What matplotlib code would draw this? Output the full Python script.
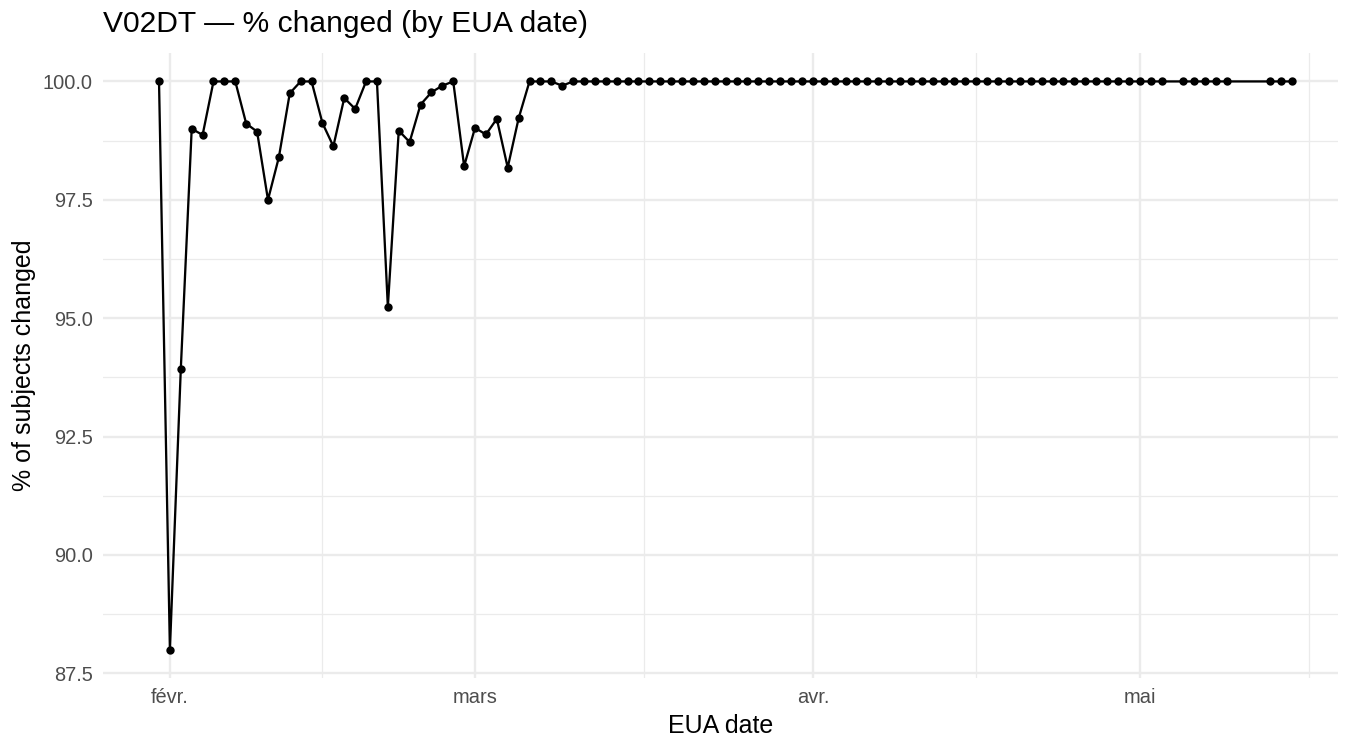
import matplotlib
matplotlib.use("Agg")
import matplotlib.pyplot as plt
import matplotlib.dates as mdates
import numpy as np
import pandas as pd

# data (2021, EUA dates)
start_date = "2021-01-31"
end_date = "2021-05-15"
missing_dates = ["2021-05-04", "2021-05-10", "2021-05-11", "2021-05-12"]

pct_changed = [
    100.0,                                                  # Jan 31
    88.0, 93.93, 99.0, 98.87, 100.0, 100.0, 100.0,          # Feb 1-7
    99.11, 98.94, 97.5, 98.4, 99.75, 100.0, 100.0,          # Feb 8-14
    99.12, 98.63, 99.65, 99.42, 100.0, 100.0, 95.24,        # Feb 15-21
    98.96, 98.72, 99.51, 99.77, 99.91, 100.0, 98.21,        # Feb 22-28
    99.02, 98.88, 99.21, 98.18, 99.22, 100.0, 100.0,        # Mar 1-7
    100.0, 99.91, 100.0, 100.0, 100.0, 100.0, 100.0,        # Mar 8-14
    100.0, 100.0, 100.0, 100.0, 100.0, 100.0, 100.0,        # Mar 15-21
    100.0, 100.0, 100.0, 100.0, 100.0, 100.0, 100.0,        # Mar 22-28
    100.0, 100.0, 100.0, 100.0, 100.0, 100.0, 100.0,        # Mar 29-Apr 4
    100.0, 100.0, 100.0, 100.0, 100.0, 100.0, 100.0,        # Apr 5-11
    100.0, 100.0, 100.0, 100.0, 100.0, 100.0, 100.0,        # Apr 12-18
    100.0, 100.0, 100.0, 100.0, 100.0, 100.0, 100.0,        # Apr 19-25
    100.0, 100.0, 100.0, 100.0, 100.0, 100.0, 100.0,        # Apr 26-May 2
    100.0,                                                  # May 3
    100.0, 100.0, 100.0, 100.0, 100.0,                      # May 5-9
    100.0, 100.0, 100.0,                                    # May 13-15
]

month_labels = {1: "janv.", 2: "févr.", 3: "mars", 4: "avr.", 5: "mai", 6: "juin"}
y_ticks = [87.5, 90.0, 92.5, 95.0, 97.5, 100.0]

dates = pd.date_range(start_date, end_date)
dates = dates[~dates.isin(pd.to_datetime(missing_dates))]
x = mdates.date2num(dates.to_pydatetime())
y = np.array(pct_changed)

plt.rcParams["font.family"] = ["Liberation Sans", "DejaVu Sans"]

fig = plt.figure(figsize=(9, 5), dpi=150)
ax = fig.add_axes([0.0763, 0.096, 0.9146, 0.8333])

ax.plot(x, y, color="black", lw=1.1, zorder=3)
ax.plot(x, y, "o", color="black", ms=3.0, zorder=4)

feb1 = mdates.date2num(pd.Timestamp("2021-02-01").to_pydatetime())
yr = y.max() - y.min()

majors = mdates.date2num(pd.date_range("2021-01-01", "2021-06-01", freq="MS").to_pydatetime())
ax.set_xticks(majors)
ax.set_xticklabels([month_labels[d.month] for d in mdates.num2date(majors)])
ax.set_xticks((majors[:-1] + majors[1:]) / 2, minor=True)
ax.set_yticks(y_ticks)
ax.set_yticklabels([f"{v:.1f}" for v in y_ticks])
ax.set_yticks([(a + b) / 2 for a, b in zip(y_ticks[:-1], y_ticks[1:])] + [101.25], minor=True)
ax.set_xlim(feb1 - 6.14, feb1 + 107.17)
ax.set_ylim(y.min() - 0.05 * yr, y.max() + 0.05 * yr)

ax.grid(which="major", color="#EBEBEB", lw=1.15)
ax.grid(which="minor", color="#EBEBEB", lw=0.6)
ax.set_axisbelow(True)
for s in ax.spines.values():
    s.set_visible(False)
ax.tick_params(which="both", length=0)
ax.tick_params(axis="both", labelsize=9.6, labelcolor="#4D4D4D", pad=5)

ax.set_xlabel("EUA date", fontsize=12, labelpad=3)
ax.set_ylabel("% of subjects changed", fontsize=12, labelpad=3)
ax.set_title("V02DT — % changed (by EUA date)", fontsize=14.4, loc="left", pad=10)

fig.savefig("out.png", dpi=150)
